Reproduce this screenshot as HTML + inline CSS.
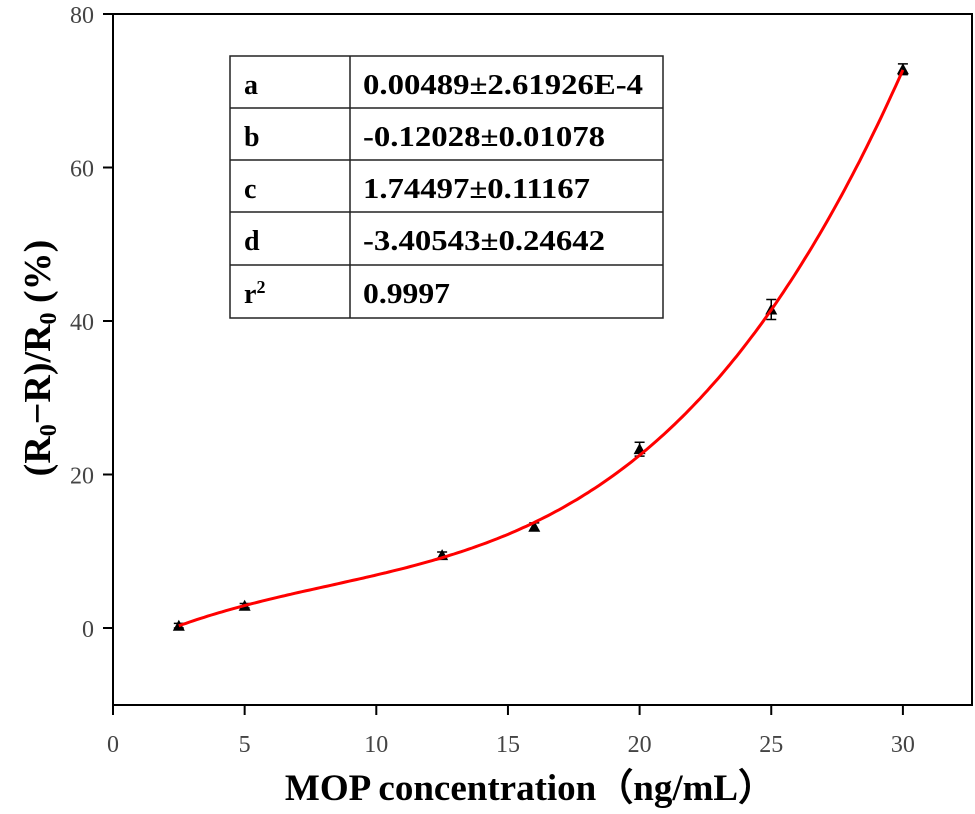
<!DOCTYPE html>
<html><head><meta charset="utf-8"><style>
body{margin:0;background:#fff;}
svg{display:block;}
</style></head><body>
<svg width="975" height="814" viewBox="0 0 975 814" xmlns="http://www.w3.org/2000/svg">
<g id="axes"></g>
<g id="marks"></g>
<g font-family="Liberation Serif, serif" font-weight="bold" font-size="28" fill="#000">
 <rect x="230" y="56" width="433" height="262" fill="none" stroke="#222" stroke-width="1.5"/>
 <line x1="350" y1="56" x2="350" y2="318" stroke="#222" stroke-width="1.5"/>
 <line x1="230" y1="108" x2="663" y2="108" stroke="#222" stroke-width="1.5"/>
 <line x1="230" y1="160" x2="663" y2="160" stroke="#222" stroke-width="1.5"/>
 <line x1="230" y1="212" x2="663" y2="212" stroke="#222" stroke-width="1.5"/>
 <line x1="230" y1="265" x2="663" y2="265" stroke="#222" stroke-width="1.5"/>
 <text x="244" y="94">a</text><text x="363" y="94" textLength="280" lengthAdjust="spacingAndGlyphs">0.00489±2.61926E-4</text>
 <text x="244" y="146">b</text><text x="363" y="146" textLength="242" lengthAdjust="spacingAndGlyphs">-0.12028±0.01078</text>
 <text x="244" y="198">c</text><text x="363" y="198" textLength="227" lengthAdjust="spacingAndGlyphs">1.74497±0.11167</text>
 <text x="244" y="250">d</text><text x="363" y="250" textLength="242" lengthAdjust="spacingAndGlyphs">-3.40543±0.24642</text>
 <text x="244" y="303">r<tspan font-size="18" dy="-10">2</tspan></text><text x="363" y="303" textLength="87" lengthAdjust="spacingAndGlyphs">0.9997</text>
</g>
<text x="530" y="800" text-anchor="middle" font-family="Liberation Serif, serif" font-weight="bold" font-size="37">MOP concentration（ng/mL）</text>
<text transform="translate(50,358) rotate(-90)" text-anchor="middle" font-family="Liberation Serif, serif" font-weight="bold" font-size="38">(R<tspan font-size="24" dy="6">0</tspan><tspan dy="-6">−R)/R</tspan><tspan font-size="24" dy="6">0</tspan><tspan dy="-6"> (%)</tspan></text>
</svg>
<script>
const xTicks=[0,5,10,15,20,25,30];
const yTicks=[0,20,40,60,80];
const concentrations=[2.5,5,12.5,16,20,25,30];
const responses=[0.3,2.9,9.5,13.2,23.3,41.5,72.8];
const errors=[0.3,0.3,0.4,0.5,0.9,1.3,0.7];
const fitCoefs=[0.00489,-0.12028,1.74497,-3.40543];
const NS='http://www.w3.org/2000/svg';
const X0=113,X1=972,Y0=14,Y1=705;
const xs=v=>113+v*26.33;
const ys=v=>628-v*7.675;
function mk(t,a,p){const e=document.createElementNS(NS,t);for(const k in a)e.setAttribute(k,a[k]);p.appendChild(e);return e;}
const ax=document.getElementById('axes'),mg=document.getElementById('marks');
const frame=mk('rect',{x:X0,y:Y0,width:X1-X0,height:Y1-Y0,fill:'none',stroke:'#000','stroke-width':2},ax);


xTicks.forEach(v=>{
 const l=mk('line',{x1:xs(v),x2:xs(v),y1:Y1,y2:Y1+10,stroke:'#000','stroke-width':2},ax);
 
 
 const t=mk('text',{x:xs(v),y:Y1+47,'text-anchor':'middle','font-family':'Liberation Serif, serif','font-size':24,fill:'#444'},ax);
 
 
 t.textContent=v;
});
yTicks.forEach(v=>{
 const l=mk('line',{x1:X0-10,x2:X0,y1:ys(v),y2:ys(v),stroke:'#000','stroke-width':2},ax);
 
 
 const t=mk('text',{x:X0-19,y:ys(v)+9,'text-anchor':'end','font-family':'Liberation Serif, serif','font-size':24,fill:'#444'},ax);
 
 
 t.textContent=v;
});
const f=x=>fitCoefs[0]*x*x*x+fitCoefs[1]*x*x+fitCoefs[2]*x+fitCoefs[3];
let d='';
const xa=concentrations[0],xb=concentrations[concentrations.length-1];
for(let i=0;i<=200;i++){const x=xa+(xb-xa)*i/200;d+=(i?'L':'M')+xs(x).toFixed(1)+' '+ys(f(x)).toFixed(1);}
concentrations.forEach((c,i)=>{
 const x=xs(c),yt=ys(responses[i]+errors[i]),yb=ys(responses[i]-errors[i]);
 const e=mk('path',{d:`M${x-5} ${yt}H${x+5}M${x} ${yt}V${yb}M${x-5} ${yb}H${x+5}`,stroke:'#000','stroke-width':1.5,fill:'none'},mg);
 
 
 const y=ys(responses[i]);
 const p=mk('path',{d:`M${x} ${y-6}L${x+6} ${y+5}L${x-6} ${y+5}Z`,fill:'#000'},mg);
 
 
});
const curve=mk('path',{d:d,fill:'none',stroke:'#ff0000','stroke-width':3},mg);


</script>
</body></html>
